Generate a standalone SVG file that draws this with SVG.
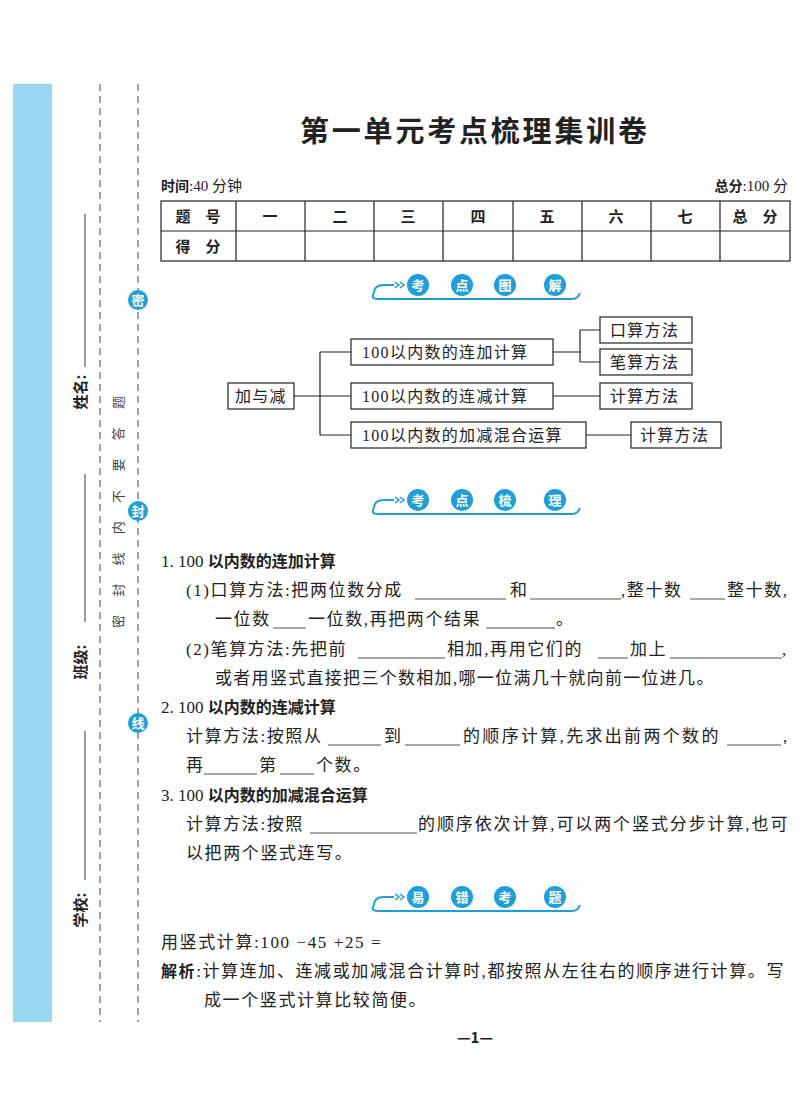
<svg xmlns="http://www.w3.org/2000/svg" width="800" height="1112" viewBox="0 0 800 1112">
<style>
text{font-family:"Liberation Serif","Noto Sans CJK SC",serif;fill:#222}
.b{font-family:"Noto Sans CJK SC",sans-serif;font-weight:bold}
.t{font-size:17px;letter-spacing:1.6px}
.bx{fill:#fff;stroke:#222;stroke-width:1.2}
.ln{stroke:#222;stroke-width:1.2;fill:none}
.ul{stroke:#222;stroke-width:0.8}
.dash{stroke:#666;stroke-width:1.2;stroke-dasharray:7 5}
.dot{fill:#1e9fdc}
.wc{fill:#fff;font-family:"Noto Sans CJK SC",sans-serif;font-size:13px;font-weight:bold}
.nt{font-size:16px;letter-spacing:1.3px}
</style>
<rect width="800" height="1112" fill="#fff"/>
<g id="margin">
<rect x="13" y="84" width="39" height="938" fill="#98d8f0"/>
<line x1="100" y1="84" x2="100" y2="1022" class="dash"/>
<line x1="138" y1="84" x2="138" y2="1022" class="dash"/>
<g stroke="#666" stroke-width="1.3">
<line x1="85" y1="214" x2="85" y2="367"/>
<line x1="85" y1="474" x2="85" y2="622"/>
<line x1="85" y1="731" x2="85" y2="880"/>
</g>
<text class="b" font-size="15" transform="translate(86,392) rotate(-90)" text-anchor="middle">姓名:</text>
<text class="b" font-size="15" transform="translate(86,662) rotate(-90)" text-anchor="middle">班级:</text>
<text class="b" font-size="15" transform="translate(86,910) rotate(-90)" text-anchor="middle">学校:</text>
<text font-size="13" transform="translate(123,628) rotate(-90)" textLength="232" lengthAdjust="spacing" style="font-family:'Noto Sans CJK SC',sans-serif;fill:#444">密封线内不要答题</text>
<circle cx="138" cy="300" r="10" class="dot"/><text class="wc" x="138" y="305" text-anchor="middle" font-size="11">密</text>
<circle cx="138" cy="511" r="10" class="dot"/><text class="wc" x="138" y="516" text-anchor="middle" font-size="11">封</text>
<circle cx="138" cy="723" r="10" class="dot"/><text class="wc" x="138" y="728" text-anchor="middle" font-size="11">线</text>
</g>
<text class="b" x="300" y="142" font-size="29" textLength="347" lengthAdjust="spacing">第一单元考点梳理集训卷</text>
<text x="161" y="191" font-size="15"><tspan class="b" font-size="14">时间</tspan>:40 分钟</text>
<text x="788" y="191" font-size="15" text-anchor="end"><tspan class="b" font-size="14">总分</tspan>:100 分</text>
<g id="table" font-size="15">
<rect x="161" y="201" width="629" height="60" class="ln" stroke-width="1.5"/>
<line x1="161" y1="231" x2="790" y2="231" class="ln"/>
<g class="ln"><path d="M236 201V261M305 201V261M374 201V261M443 201V261M513 201V261M582 201V261M651 201V261M720 201V261"/></g>
<g text-anchor="middle" font-size="15">
<text x="198" y="222" class="b">题　号</text><text x="270" y="222" class="b">一</text><text x="340" y="222" class="b">二</text><text x="408" y="222" class="b">三</text><text x="478" y="222" class="b">四</text><text x="547" y="222" class="b">五</text><text x="616" y="222" class="b">六</text><text x="685" y="222" class="b">七</text><text x="755" y="222" class="b">总　分</text>
<text x="198" y="252" class="b">得　分</text>
</g>
</g>
<defs>
<g id="hook"><path d="M-100 8 Q-104 14 -96 14 L98 14 Q104 14 106 8" fill="none" stroke="#1e9fdc" stroke-width="2"/><path d="M-100 8 Q-100 0 -90 0 L-80 0" fill="none" stroke="#1e9fdc" stroke-width="2"/><path d="M-79 -3 L-75 0 L-79 3 M-74 -3 L-70 0 L-74 3" fill="none" stroke="#1e9fdc" stroke-width="1.5"/></g>
</defs>
<g id="banner1">
<use href="#hook" x="474" y="285"/>
<circle cx="418" cy="285" r="11" class="dot"/><circle cx="462" cy="285" r="11" class="dot"/><circle cx="505" cy="285" r="11" class="dot"/><circle cx="555" cy="285" r="11" class="dot"/>
<text x="418" y="290" class="wc" text-anchor="middle">考</text><text x="462" y="290" class="wc" text-anchor="middle">点</text><text x="505" y="290" class="wc" text-anchor="middle">图</text><text x="555" y="290" class="wc" text-anchor="middle">解</text>
</g>
<g id="connectors" class="ln">
<path d="M294 396H320M320 352V435M320 352H351M320 396H351M320 435H351"/>
<path d="M553 352H580M580 330V362M580 330H600M580 362H600M553 396H600M586 435H631"/>
</g>
<g id="n0"><rect x="228" y="383" width="66" height="26" class="bx"/><text x="235" y="402" class="nt">加与减</text></g>
<g id="n1"><rect x="351" y="339" width="202" height="26" class="bx"/><text x="362" y="358" class="nt">100以内数的连加计算</text></g>
<g id="n2"><rect x="351" y="383" width="202" height="26" class="bx"/><text x="362" y="402" class="nt">100以内数的连减计算</text></g>
<g id="n3"><rect x="351" y="422" width="235" height="26" class="bx"/><text x="362" y="441" class="nt">100以内数的加减混合运算</text></g>
<g id="n4"><rect x="600" y="317" width="92" height="26" class="bx"/><text x="610" y="336" class="nt">口算方法</text></g>
<g id="n5"><rect x="600" y="349" width="92" height="26" class="bx"/><text x="610" y="368" class="nt">笔算方法</text></g>
<g id="n6"><rect x="600" y="383" width="92" height="26" class="bx"/><text x="610" y="402" class="nt">计算方法</text></g>
<g id="n7"><rect x="631" y="422" width="90" height="26" class="bx"/><text x="640" y="441" class="nt">计算方法</text></g>
<g id="banner2">
<use href="#hook" x="474" y="500"/>
<circle cx="418" cy="500" r="11" class="dot"/><circle cx="462" cy="500" r="11" class="dot"/><circle cx="505" cy="500" r="11" class="dot"/><circle cx="555" cy="500" r="11" class="dot"/>
<text x="418" y="505" class="wc" text-anchor="middle">考</text><text x="462" y="505" class="wc" text-anchor="middle">点</text><text x="505" y="505" class="wc" text-anchor="middle">梳</text><text x="555" y="505" class="wc" text-anchor="middle">理</text>
</g>
<g id="body" class="t">
<text x="161" y="567" letter-spacing="0">1. 100 <tspan class="b" font-size="16">以内数的连加计算</tspan></text>
<text x="186" y="596">(1)口算方法:把两位数分成</text><text x="510" y="596">和</text><text x="621" y="596">,整十数</text><text x="727" y="596">整十数,</text>
<text x="215" y="625">一位数</text><text x="308" y="625">一位数,再把两个结果</text><text x="556" y="625">。</text>
<text x="186" y="655">(2)笔算方法:先把前</text><text x="447" y="655">相加,再用它们的</text><text x="630" y="655">加上</text><text x="782" y="655">,</text>
<text x="215" y="684" textLength="500" lengthAdjust="spacing">或者用竖式直接把三个数相加,哪一位满几十就向前一位进几。</text>
<text x="161" y="713" letter-spacing="0">2. 100 <tspan class="b" font-size="16">以内数的连减计算</tspan></text>
<text x="186" y="742">计算方法:按照从</text><text x="384" y="742">到</text><text x="463" y="742" textLength="257" lengthAdjust="spacing">的顺序计算,先求出前两个数的</text><text x="783" y="742">,</text>
<text x="186" y="771">再</text><text x="259" y="771">第</text><text x="316" y="771">个数。</text>
<text x="161" y="801" letter-spacing="0">3. 100 <tspan class="b" font-size="16">以内数的加减混合运算</tspan></text>
<text x="186" y="830">计算方法:按照</text><text x="418" y="830" textLength="371" lengthAdjust="spacing">的顺序依次计算,可以两个竖式分步计算,也可</text>
<text x="186" y="859">以把两个竖式连写。</text>
<g class="ul">
<line x1="415" y1="599" x2="506" y2="599"/><line x1="530" y1="599" x2="621" y2="599"/><line x1="690" y1="599" x2="725" y2="599"/>
<line x1="273" y1="628" x2="306" y2="628"/><line x1="486" y1="628" x2="555" y2="628"/>
<line x1="358" y1="658" x2="445" y2="658"/><line x1="598" y1="658" x2="628" y2="658"/><line x1="670" y1="658" x2="782" y2="658"/>
<line x1="328" y1="745" x2="381" y2="745"/><line x1="405" y1="745" x2="460" y2="745"/><line x1="727" y1="745" x2="781" y2="745"/>
<line x1="204" y1="774" x2="257" y2="774"/><line x1="280" y1="774" x2="314" y2="774"/>
<line x1="310" y1="833" x2="417" y2="833"/>
</g>
</g>
<g id="banner3">
<use href="#hook" x="474" y="897"/>
<circle cx="418" cy="897" r="11" class="dot"/><circle cx="462" cy="897" r="11" class="dot"/><circle cx="505" cy="897" r="11" class="dot"/><circle cx="555" cy="897" r="11" class="dot"/>
<text x="418" y="902" class="wc" text-anchor="middle">易</text><text x="462" y="902" class="wc" text-anchor="middle">错</text><text x="505" y="902" class="wc" text-anchor="middle">考</text><text x="555" y="902" class="wc" text-anchor="middle">题</text>
</g>
<g class="t">
<text x="161" y="948">用竖式计算:100 −45 +25 =</text>
<text x="161" y="977" textLength="624" lengthAdjust="spacing"><tspan class="b" font-size="16">解析</tspan>:计算连加、连减或加减混合计算时,都按照从左往右的顺序进行计算。写</text>
<text x="204" y="1006">成一个竖式计算比较简便。</text>
</g>
<text x="475" y="1043" font-size="15" text-anchor="middle" class="b">—1—</text>
</svg>
